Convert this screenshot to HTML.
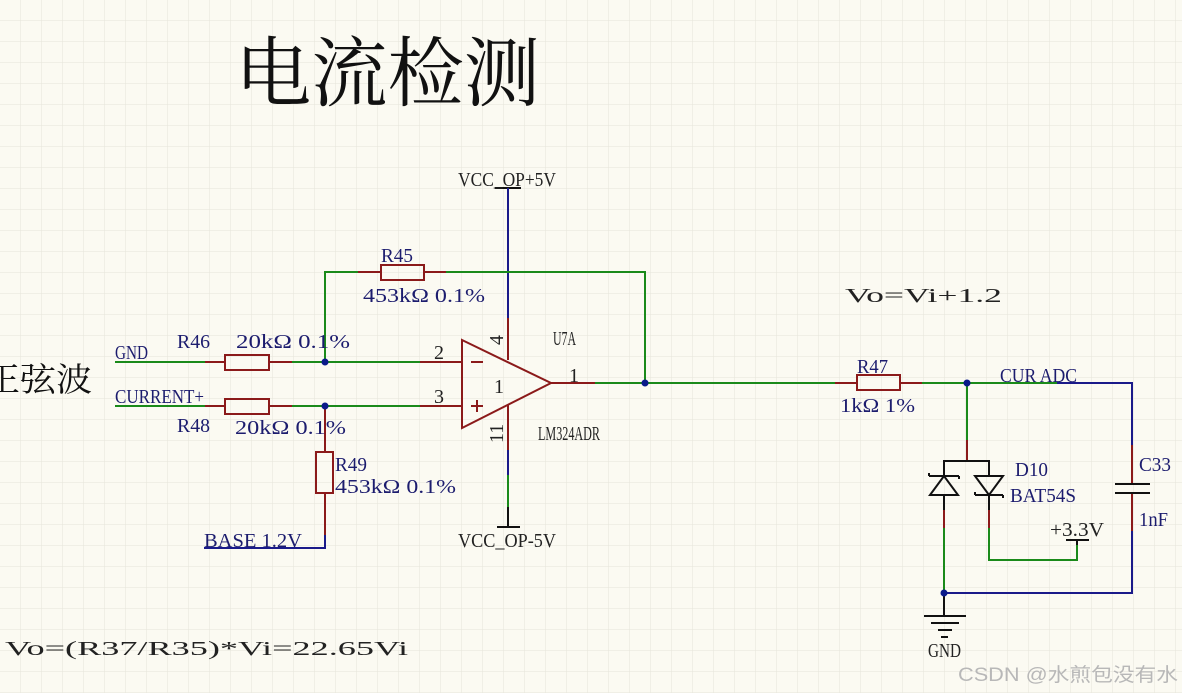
<!DOCTYPE html>
<html><head><meta charset="utf-8"><style>
html,body{margin:0;padding:0;background:#fbfaf2;}
svg{display:block}
.t{font-family:"Liberation Serif","Noto Serif CJK SC",serif;fill:#1c1c6e;font-size:20px}
.b{font-family:"Liberation Serif","Noto Serif CJK SC",serif;fill:#222;font-size:20px}
</style></head><body>
<svg width="1182" height="693" viewBox="0 0 1182 693" xmlns="http://www.w3.org/2000/svg">
<defs><pattern id="g" width="21" height="21" patternUnits="userSpaceOnUse"><path d="M21 0V21H0" fill="none" stroke="#e6e4da" stroke-width="1"/></pattern></defs>
<rect width="1182" height="693" fill="#fbfaf2"/>
<rect width="1182" height="693" fill="url(#g)"/>
<text x="235" y="100" font-family="'Noto Serif CJK SC','Noto Sans CJK SC',serif" font-size="76" fill="#111" textLength="305" lengthAdjust="spacingAndGlyphs">电流检测</text>
<text x="-16" y="391" font-family="'Noto Serif CJK SC','Noto Sans CJK SC',serif" font-size="33" fill="#111" textLength="108" lengthAdjust="spacingAndGlyphs">正弦波</text>
<g fill="none" stroke-width="2">
<path d="M495 188H521" stroke="#111"/>
<path d="M508 188V318" stroke="#1a1a8a"/>
<path d="M508 318V360" stroke="#8b1a1a"/>
<path d="M508 405V450" stroke="#8b1a1a"/>
<path d="M508 450V475" stroke="#1a1a8a"/>
<path d="M508 475V507" stroke="#1a8a1a"/>
<path d="M508 507V527M497 527H520" stroke="#111"/>
<path d="M462 340L551 383L462 428Z" stroke="#8b1a1a"/>
<path d="M471 362H483M471 406H483M477 400V412" stroke="#8b1a1a"/>
<path d="M420 362H462M420 406H462M551 383H595" stroke="#8b1a1a"/>
<path d="M325 362V272H358M446 272H645V383M595 383H835" stroke="#1a8a1a"/>
<path d="M358 272H381M424 272H446" stroke="#8b1a1a"/>
<rect x="381" y="265" width="43" height="15" stroke="#8b1a1a"/>
<path d="M115 362H205M292 362H420M115 406H205M292 406H420" stroke="#1a8a1a"/>
<path d="M205 362H225M269 362H292M205 406H225M269 406H292" stroke="#8b1a1a"/>
<rect x="225" y="355" width="44" height="15" stroke="#8b1a1a"/>
<rect x="225" y="399" width="44" height="15" stroke="#8b1a1a"/>
<path d="M325 406V452M325 493V535" stroke="#8b1a1a"/>
<rect x="316" y="452" width="17" height="41" stroke="#8b1a1a"/>
<path d="M325 535V548H204" stroke="#1a1a8a"/>
<path d="M835 383H857M900 383H922" stroke="#8b1a1a"/>
<rect x="857" y="375" width="43" height="15" stroke="#8b1a1a"/>
<path d="M922 383H1057M967 383V440" stroke="#1a8a1a"/>
<path d="M1057 383H1132V445M1132 531V593H944" stroke="#1a1a8a"/>
<path d="M1132 445V484M1132 493V531" stroke="#8b1a1a"/>
<path d="M1115 484H1150M1115 493H1150" stroke="#111"/>
<path d="M967 440V461" stroke="#8b1a1a"/>
<path d="M944 476V461H989V476" stroke="#111"/>
<path d="M929 476H959M929 476V473M959 476V479M944 476L930 495H958Z M944 495V510" stroke="#111"/>
<path d="M975 476H1003L989 495Z M975 495H1003M975 495V492M1003 495V498 M989 495V510" stroke="#111"/>
<path d="M944 510V528M989 510V528" stroke="#8b1a1a"/>
<path d="M944 528V593M989 528V560H1077V545" stroke="#1a8a1a"/>
<path d="M1077 545V540M1066 540H1089" stroke="#111"/>
<path d="M944 593V616M924 616H966M931 623H959M938 630H952M941 637H948" stroke="#111"/>
</g>
<g fill="#0a1a8a">
<circle cx="325" cy="362" r="3.5"/><circle cx="325" cy="406" r="3.5"/><circle cx="645" cy="383" r="3.5"/>
<circle cx="967" cy="383" r="3.5"/><circle cx="944" cy="593" r="3.5"/>
</g>
<g>
<text class="b" x="458" y="186" textLength="98" lengthAdjust="spacingAndGlyphs">VCC_OP+5V</text>
<text class="b" x="458" y="547" textLength="98" lengthAdjust="spacingAndGlyphs">VCC_OP-5V</text>
<text class="t" x="115" y="359" textLength="33" lengthAdjust="spacingAndGlyphs">GND</text>
<text class="t" x="115" y="403" textLength="89" lengthAdjust="spacingAndGlyphs">CURRENT+</text>
<text class="t" x="177" y="348" textLength="33" lengthAdjust="spacingAndGlyphs">R46</text>
<text class="t" x="236" y="348" textLength="114" lengthAdjust="spacingAndGlyphs">20kΩ  0.1%</text>
<text class="t" x="177" y="432" textLength="33" lengthAdjust="spacingAndGlyphs">R48</text>
<text class="t" x="235" y="434" textLength="111" lengthAdjust="spacingAndGlyphs">20kΩ  0.1%</text>
<text class="t" x="381" y="262" textLength="32" lengthAdjust="spacingAndGlyphs">R45</text>
<text class="t" x="363" y="302" textLength="122" lengthAdjust="spacingAndGlyphs">453kΩ  0.1%</text>
<text class="t" x="335" y="471" textLength="32" lengthAdjust="spacingAndGlyphs">R49</text>
<text class="t" x="335" y="493" textLength="121" lengthAdjust="spacingAndGlyphs">453kΩ  0.1%</text>
<text class="t" x="204" y="547" textLength="98" lengthAdjust="spacingAndGlyphs">BASE 1.2V</text>
<text class="b" x="434" y="359">2</text>
<text class="b" x="434" y="403">3</text>
<text class="b" x="494" y="393">1</text>
<text class="b" x="569" y="382">1</text>
<text class="b" transform="translate(503,345) rotate(-90)">4</text>
<text class="b" transform="translate(503,443) rotate(-90)">11</text>
<text class="b" x="553" y="345" font-size="13" textLength="23" lengthAdjust="spacingAndGlyphs">U7A</text>
<text class="b" x="538" y="440" font-size="13" textLength="62" lengthAdjust="spacingAndGlyphs">LM324ADR</text>
<text class="b" x="845" y="302" font-size="31" textLength="157" lengthAdjust="spacingAndGlyphs">Vo=Vi+1.2</text>
<text class="b" x="5" y="655" font-size="31" textLength="403" lengthAdjust="spacingAndGlyphs">Vo=(R37/R35)*Vi=22.65Vi</text>
<text class="t" x="857" y="373" textLength="31" lengthAdjust="spacingAndGlyphs">R47</text>
<text class="t" x="840" y="412" textLength="75" lengthAdjust="spacingAndGlyphs">1kΩ  1%</text>
<text class="t" x="1000" y="382" textLength="77" lengthAdjust="spacingAndGlyphs">CUR ADC</text>
<text class="t" x="1015" y="476" textLength="33" lengthAdjust="spacingAndGlyphs">D10</text>
<text class="t" x="1010" y="502" textLength="66" lengthAdjust="spacingAndGlyphs">BAT54S</text>
<text class="t" x="1139" y="471" textLength="32" lengthAdjust="spacingAndGlyphs">C33</text>
<text class="t" x="1139" y="526" textLength="29" lengthAdjust="spacingAndGlyphs">1nF</text>
<text class="b" x="1050" y="536" textLength="54" lengthAdjust="spacingAndGlyphs">+3.3V</text>
<text class="b" x="928" y="657" textLength="33" lengthAdjust="spacingAndGlyphs">GND</text>
<text x="958" y="681" font-family="'Liberation Sans','Noto Sans CJK SC',sans-serif" font-size="19" fill="#b8b8b8" textLength="220" lengthAdjust="spacingAndGlyphs">CSDN @水煎包没有水</text>
</g>
</svg>
</body></html>
